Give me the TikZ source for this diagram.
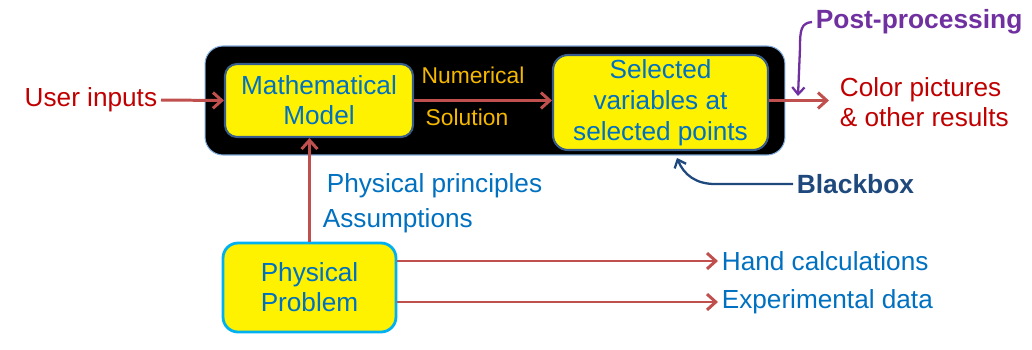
\documentclass[tikz,border=0pt]{standalone}
\usepackage{fontspec}
\setmainfont{Liberation Sans}
\usetikzlibrary{arrows.meta}
\definecolor{ablue}{HTML}{0070C0}
\definecolor{ured}{HTML}{C00000}
\definecolor{arrowred}{HTML}{C0504D}
\definecolor{numorange}{HTML}{F5B800}
\definecolor{ppurple}{HTML}{7030A0}
\definecolor{bkblue}{HTML}{1F497D}
\definecolor{boxedge}{HTML}{7FA8D8}
\definecolor{mmedge}{HTML}{385D8A}
\definecolor{ppedge}{HTML}{00B0F0}
\begin{document}
\begin{tikzpicture}[x=0.02cm,y=-0.02cm,
  mainfont/.style={font=\fontsize{14.9pt}{17pt}\selectfont},
  boldfont/.style={font=\fontsize{15pt}{17pt}\selectfont\bfseries},
  smallfont/.style={font=\fontsize{13pt}{15pt}\selectfont},
  ybox/.style={mainfont, fill=yellow, align=center, text=ablue, inner sep=0pt},
  lbl/.style={mainfont, inner sep=2pt, anchor=west, align=left},
  conn/.style={draw=arrowred, line width=1.7pt, -{Straight Barb[length=5pt,width=9pt]}},
  thinarrow/.style={line width=1.3pt, -{Straight Barb[length=4pt,width=7pt]}},
]
\useasboundingbox (0,0) rectangle (1032,349);

% black box
\node[fill=black, draw=boxedge, line width=0.6pt, rounded corners=0.36cm,
      minimum width=11.6cm, minimum height=2.18cm, inner sep=0pt] (bb) at (495,100.5) {};

% yellow boxes
\node[ybox, draw=mmedge, line width=1.2pt, rounded corners=0.24cm,
      minimum width=3.76cm, minimum height=1.46cm] (mm) at (319,100.5) {Mathematical\\Model};
\node[ybox, font=\fontsize{14.9pt}{17.6pt}\selectfont, draw=mmedge, line width=1.2pt, rounded corners=0.3cm,
      minimum width=4.3cm, minimum height=1.9cm] (sv) at (660.5,102.5) {Selected\\variables at\\selected points};
\node[ybox, draw=ppedge, line width=1.6pt, rounded corners=0.3cm,
      minimum width=3.46cm, minimum height=1.78cm] (pp) at (309.5,287.5) {Physical\\Problem};

% labels
\node[lbl, text=ured, anchor=east] (ui) at (161,100) {User inputs};
\node[smallfont, text=numorange, inner sep=0pt] (num) at (473,75) {Numerical};
\node[smallfont, text=numorange, inner sep=0pt] (sol) at (467,117) {Solution};
\node[lbl, text=ured] (cp) at (836,102) {Color pictures\\\& other results};
\node[lbl, boldfont, text=ppurple] (post) at (812,22) {Post-processing};
\node[lbl, boldfont, text=bkblue] (bk) at (793,184) {Blackbox};
\node[lbl, text=ablue] (phyp) at (323,186) {Physical principles};
\node[lbl, text=ablue] (assm) at (319,221) {Assumptions};
\node[lbl, text=ablue] (hc) at (718,261) {Hand calculations};
\node[lbl, text=ablue] (ed) at (718,302) {Experimental data};

% connectors
\draw[conn] (ui.east) -- (mm.west);
\draw[conn] (mm.east) -- (sv.west |- mm.east);
\draw[conn, shorten >=4pt] (sv.east |- mm.east) -- (mm.east -| cp.west);
\draw[conn] (pp.north) -- (pp.north |- mm.south);
\draw[conn] (hc.west -| pp.east) -- (hc.west);
\draw[conn] (ed.west -| pp.east) -- (ed.west);

\coordinate (pptip) at (798,96);
\draw[thinarrow, draw=ppurple] (post.west) .. controls (801,23) and (800,30) .. (800,48) -- (pptip);
\coordinate (bbtip) at (677,158);
\draw[thinarrow, draw=bkblue] (bk.west) -- (715,184) .. controls (696,184) and (684,175) .. (bbtip);
\end{tikzpicture}
\end{document}
